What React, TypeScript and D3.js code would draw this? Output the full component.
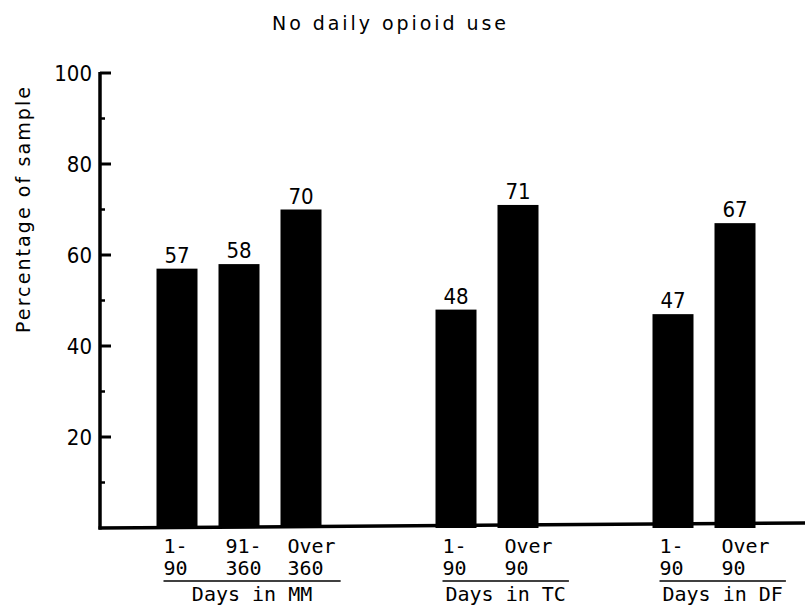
import React, { useEffect, useRef } from 'react';
import * as d3 from 'd3';

// bar data
const groups = ['Days in MM', 'Days in TC', 'Days in DF'];
const barGroup = [0, 0, 0, 1, 1, 2, 2];
const barSlot = [0, 1, 2, 4.5, 5.5, 8, 9];
const barTop = ['1-', '91-', 'Over', '1-', 'Over', '1-', 'Over'];
const barBottom = ['90', '360', '360', '90', '90', '90', '90'];
const values = [57, 58, 70, 48, 71, 47, 67];
const majorTicks = [20, 40, 60, 80, 100];
const minorTicks = [10, 30, 50, 70, 90];

const W = 805, H = 608;

export default function App() {
  const ref = useRef<SVGSVGElement>(null);

  useEffect(() => {
    const svg = d3.select(ref.current);
    svg.selectAll('*').remove();

    const axisX = 100, baseY = 528;
    const y = d3.scaleLinear().domain([0, 100]).range([baseY, 73]);
    const x = d3.scaleLinear().domain([0, 9]).range([177, 735]);
    const barW = 41;
    const mono = "'DejaVu Sans Mono', monospace";
    const cond = "'DejaVu Sans Condensed', 'DejaVu Sans', sans-serif";
    const charW = 20 * 0.602;

    // title
    svg.append('text')
      .attr('x', 389).attr('y', 30)
      .attr('text-anchor', 'middle')
      .attr('textLength', 234).attr('lengthAdjust', 'spacing')
      .style('font-family', "'DejaVu Sans', sans-serif")
      .style('font-size', '19px')
      .text('No daily opioid use');

    // y title
    svg.append('text')
      .attr('transform', 'translate(30,210) rotate(-90)')
      .attr('text-anchor', 'middle')
      .attr('textLength', 246).attr('lengthAdjust', 'spacing')
      .style('font-family', "'DejaVu Sans', sans-serif")
      .style('font-size', '19px')
      .text('Percentage of sample');

    // bars
    svg.selectAll('rect.bar')
      .data(values)
      .enter().append('rect')
      .attr('class', 'bar')
      .attr('x', (d, i) => x(barSlot[i]) - barW / 2)
      .attr('y', d => y(d))
      .attr('width', barW)
      .attr('height', d => baseY - y(d))
      .attr('fill', '#000');

    svg.selectAll('text.val')
      .data(values)
      .enter().append('text')
      .attr('class', 'val')
      .attr('x', (d, i) => x(barSlot[i]))
      .attr('y', d => y(d) - 6)
      .attr('text-anchor', 'middle')
      .style('font-family', cond)
      .style('font-size', '22px')
      .text(d => d);

    // axes
    svg.append('line')
      .attr('x1', axisX).attr('x2', axisX)
      .attr('y1', y(100) - 1).attr('y2', baseY + 1.5)
      .attr('stroke', '#000').attr('stroke-width', 3.5);
    svg.append('line')
      .attr('x1', axisX - 1.5).attr('x2', W)
      .attr('y1', baseY).attr('y2', baseY - 5)
      .attr('stroke', '#000').attr('stroke-width', 3.5);

    svg.selectAll('line.major')
      .data(majorTicks)
      .enter().append('line')
      .attr('x1', axisX).attr('x2', axisX + 11)
      .attr('y1', d => y(d)).attr('y2', d => y(d))
      .attr('stroke', '#000').attr('stroke-width', 3);
    svg.selectAll('line.minor')
      .data(minorTicks)
      .enter().append('line')
      .attr('x1', axisX).attr('x2', axisX + 5)
      .attr('y1', d => y(d)).attr('y2', d => y(d))
      .attr('stroke', '#000').attr('stroke-width', 2.5);
    svg.selectAll('text.tick')
      .data(majorTicks)
      .enter().append('text')
      .attr('x', axisX - 8)
      .attr('y', d => y(d) + 8)
      .attr('text-anchor', 'end')
      .style('font-family', cond)
      .style('font-size', '22px')
      .text(d => d);

    // category labels
    values.forEach((v, i) => {
      const lx = x(barSlot[i]) - barW / 2 + 7;
      svg.append('text').attr('x', lx).attr('y', 553)
        .style('font-family', mono).style('font-size', '20px').text(barTop[i]);
      svg.append('text').attr('x', lx).attr('y', 575)
        .style('font-family', mono).style('font-size', '20px').text(barBottom[i]);
    });

    groups.forEach((g, gi) => {
      const idx = barGroup.map((b, i) => (b === gi ? i : -1)).filter(i => i >= 0);
      const first = idx[0], last = idx[idx.length - 1];
      const x1 = x(barSlot[first]) - barW / 2 + 7;
      const lastEnd = x(barSlot[last]) - barW / 2 + 7 + 4 * charW + 5;
      const x2 = Math.max(lastEnd, x1 + g.length * charW + 6);
      svg.append('line')
        .attr('x1', x1).attr('x2', x2)
        .attr('y1', 581).attr('y2', 581)
        .attr('stroke', '#000').attr('stroke-width', 1.5);
      svg.append('text')
        .attr('x', (x1 + x2) / 2).attr('y', 601)
        .attr('text-anchor', 'middle')
        .style('font-family', mono).style('font-size', '20px')
        .text(g);
    });
  }, []);

  return (
    <div style={{ position: 'fixed', left: 0, top: 0, background: '#fff' }}>
      <svg ref={ref} width={W} height={H} />
    </div>
  );
}
